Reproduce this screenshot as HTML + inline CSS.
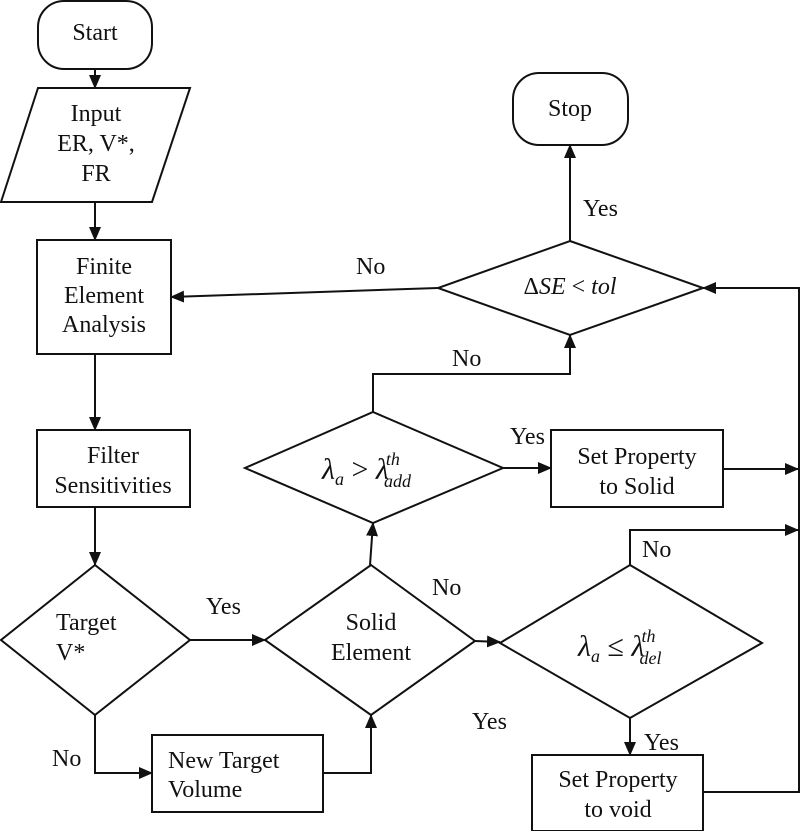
<!DOCTYPE html>
<html><head><style>
html,body{margin:0;padding:0;background:#fff;}
svg{display:block;}
text{font-family:"Liberation Serif",serif;font-size:24px;fill:#111;}
.i{font-style:italic;}
</style></head><body>
<svg width="800" height="831" viewBox="0 0 800 831" xmlns="http://www.w3.org/2000/svg">
<defs><marker id="a" markerWidth="14" markerHeight="12" refX="13" refY="6" orient="auto" markerUnits="userSpaceOnUse"><path d="M0,0 L14,6 L0,12 z" fill="#111"/></marker></defs>
<g fill="none" stroke="#111" stroke-width="2">
<rect x="38" y="1" width="114" height="68" rx="26"/>
<polygon points="38,88 190,88 152,202 1,202"/>
<rect x="37" y="240" width="134" height="114"/>
<rect x="37" y="430" width="153" height="77"/>
<polygon points="95,565 190,640 95,715 1,640"/>
<rect x="152" y="735" width="171" height="77"/>
<polygon points="371,565 475,641 371,715 265,640"/>
<polygon points="373,412 503,468 373,523 245,468"/>
<rect x="551" y="430" width="172" height="77"/>
<polygon points="570,241 703,288 570,335 438,288"/>
<rect x="513" y="73" width="115" height="72" rx="26"/>
<polygon points="630,565 762,643 630,718 500,643"/>
<rect x="532" y="755" width="171" height="76"/>
<path d="M95,69 V88" marker-end="url(#a)"/>
<path d="M95,202 V240" marker-end="url(#a)"/>
<path d="M95,354 V430" marker-end="url(#a)"/>
<path d="M95,507 V565" marker-end="url(#a)"/>
<path d="M95,715 V773 H152" marker-end="url(#a)"/>
<path d="M323,773 H371 V715" marker-end="url(#a)"/>
<path d="M190,640 H265" marker-end="url(#a)"/>
<path d="M370,565 L373,523" marker-end="url(#a)"/>
<path d="M475,641 L500,642" marker-end="url(#a)"/>
<path d="M503,468 H551" marker-end="url(#a)"/>
<path d="M723,469 H798" marker-end="url(#a)"/>
<path d="M373,412 V374 H570 V335" marker-end="url(#a)"/>
<path d="M570,241 V145" marker-end="url(#a)"/>
<path d="M438,288 L171,297" marker-end="url(#a)"/>
<path d="M630,565 V530 H798" marker-end="url(#a)"/>
<path d="M630,718 V755" marker-end="url(#a)"/>
<path d="M703,792 H799 V288 H703" marker-end="url(#a)"/>
</g>
<g text-anchor="middle">
<text x="95" y="40">Start</text>
<text x="96" y="121">Input</text>
<text x="96" y="151">ER, V*,</text>
<text x="96" y="181">FR</text>
<text x="104" y="274">Finite</text>
<text x="104" y="303">Element</text>
<text x="104" y="332">Analysis</text>
<text x="113" y="463">Filter</text>
<text x="113" y="493">Sensitivities</text>
<text x="570" y="116">Stop</text>
<text x="637" y="464">Set Property</text>
<text x="637" y="494">to Solid</text>
<text x="618" y="787">Set Property</text>
<text x="618" y="817">to void</text>
<text x="371" y="630">Solid</text>
<text x="371" y="660">Element</text>
<text x="570" y="294"><tspan>Δ</tspan><tspan class="i">SE</tspan> &lt; <tspan class="i">tol</tspan></text>
</g>
<text x="56" y="630">Target</text>
<text x="56" y="660">V*</text>
<text x="168" y="768">New Target</text>
<text x="168" y="797">Volume</text>
<text x="322" y="479" class="i" style="font-size:30px">λ<tspan dy="6" style="font-size:18px">a</tspan><tspan dy="-6" style="font-style:normal"> &gt; </tspan>λ<tspan dx="-3" dy="-14" style="font-size:18px">th</tspan><tspan dx="-16" dy="22" style="font-size:18px">add</tspan></text>
<text x="578" y="656" class="i" style="font-size:30px">λ<tspan dy="6" style="font-size:18px">a</tspan><tspan dy="-6" style="font-style:normal"> ≤ </tspan>λ<tspan dx="-3" dy="-14" style="font-size:18px">th</tspan><tspan dx="-16" dy="22" style="font-size:18px">del</tspan></text>
<text x="206" y="614">Yes</text>
<text x="52" y="766">No</text>
<text x="432" y="595">No</text>
<text x="472" y="729">Yes</text>
<text x="356" y="274">No</text>
<text x="452" y="366">No</text>
<text x="510" y="444">Yes</text>
<text x="583" y="216">Yes</text>
<text x="642" y="557">No</text>
<text x="644" y="750">Yes</text>
</svg>
</body></html>
